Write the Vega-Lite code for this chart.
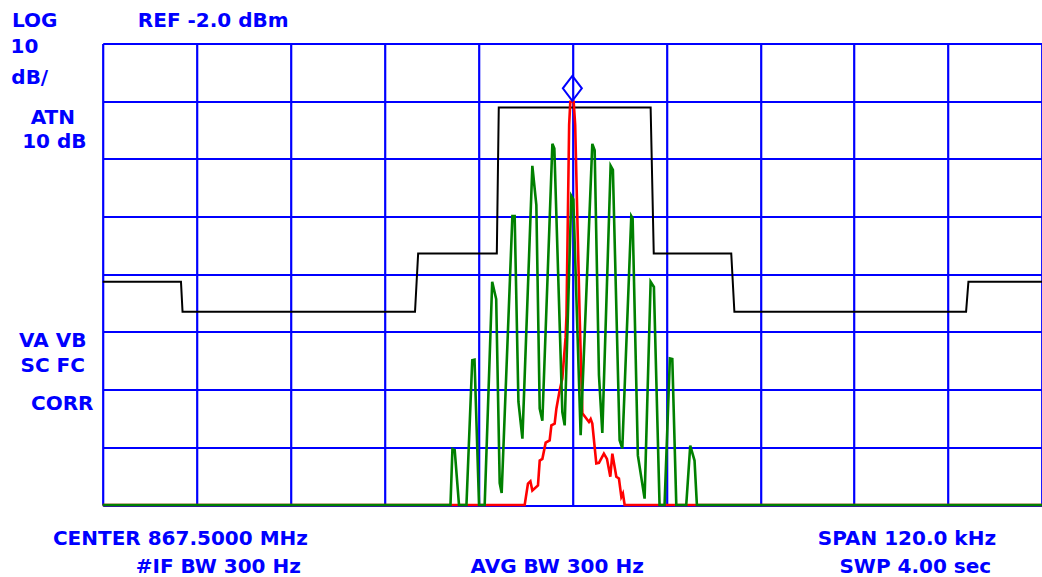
{
  "$schema": "https://vega.github.io/schema/vega-lite/v6.json",
  "autosize": {"type": "none"},
  "padding": {"left": 102.7, "top": 43.5, "right": 0, "bottom": 72},
  "width": 939.3,
  "height": 461.5,
  "background": "white",
  "config": {"view": {"stroke": null}, "text": {"font": "DejaVu Sans", "fontWeight": "bold", "fontSize": 20, "color": "#0000FF", "align": "center", "baseline": "alphabetic"}},
  "datasets": {
    "mask": [
      {"f": -60, "db": -43.3}, {"f": -50.0, "db": -43.3}, {"f": -49.8, "db": -48.5},
      {"f": -20.1, "db": -48.5}, {"f": -19.7, "db": -38.4}, {"f": -9.65, "db": -38.4},
      {"f": -9.4, "db": -13.1}, {"f": 10.0, "db": -13.1}, {"f": 10.4, "db": -38.4},
      {"f": 20.3, "db": -38.4}, {"f": 20.7, "db": -48.5}, {"f": 50.3, "db": -48.5},
      {"f": 50.6, "db": -43.3}, {"f": 60, "db": -43.3}
    ],
    "red": [
      {"f": -60, "db": -82}, {"f": -6.09, "db": -82}, {"f": -5.67, "db": -78.3},
      {"f": -5.36, "db": -77.9}, {"f": -5.11, "db": -79.5}, {"f": -4.39, "db": -78.6},
      {"f": -4.17, "db": -74.3}, {"f": -3.83, "db": -74.0}, {"f": -3.41, "db": -71.2},
      {"f": -2.90, "db": -70.8}, {"f": -2.68, "db": -68.2}, {"f": -2.26, "db": -67.9},
      {"f": -2.04, "db": -65.3}, {"f": -1.62, "db": -62.1}, {"f": -1.28, "db": -60.1},
      {"f": -0.86, "db": -52.9}, {"f": -0.75, "db": -49.1}, {"f": -0.41, "db": -16.1},
      {"f": -0.26, "db": -12.1}, {"f": 0.17, "db": -12.1}, {"f": 0.36, "db": -16.1},
      {"f": 0.93, "db": -49.1}, {"f": 1.28, "db": -66.1}, {"f": 1.79, "db": -67.0},
      {"f": 2.12, "db": -67.6}, {"f": 2.34, "db": -67.1}, {"f": 2.55, "db": -67.9},
      {"f": 3.06, "db": -74.8}, {"f": 3.40, "db": -74.7}, {"f": 4.03, "db": -73.1},
      {"f": 4.42, "db": -74.0}, {"f": 4.85, "db": -77.1}, {"f": 5.11, "db": -73.1},
      {"f": 5.62, "db": -77.1}, {"f": 5.95, "db": -77.4}, {"f": 6.26, "db": -80.6},
      {"f": 6.46, "db": -80.0}, {"f": 6.68, "db": -82}, {"f": 60, "db": -82}
    ],
    "green": [
      {"f": -60, "db": -82}, {"f": -15.57, "db": -82}, {"f": -15.32, "db": -72.3},
      {"f": -15.03, "db": -72.5}, {"f": -14.48, "db": -82}, {"f": -13.53, "db": -82},
      {"f": -12.79, "db": -56.9}, {"f": -12.5, "db": -56.8}, {"f": -11.92, "db": -82},
      {"f": -11.2, "db": -82}, {"f": -10.24, "db": -43.3}, {"f": -9.73, "db": -46.3},
      {"f": -9.28, "db": -78.2}, {"f": -9.03, "db": -79.9}, {"f": -7.66, "db": -31.9},
      {"f": -7.37, "db": -31.9}, {"f": -6.89, "db": -64.1}, {"f": -6.38, "db": -70.5},
      {"f": -5.11, "db": -23.2}, {"f": -4.6, "db": -30.0}, {"f": -4.17, "db": -65.3},
      {"f": -3.83, "db": -67.4}, {"f": -2.55, "db": -19.4}, {"f": -2.3, "db": -20.2},
      {"f": -1.28, "db": -65.9}, {"f": -0.98, "db": -68.2}, {"f": -0.13, "db": -28.4},
      {"f": 0.13, "db": -29.0}, {"f": 1.06, "db": -69.9}, {"f": 2.55, "db": -19.4},
      {"f": 2.85, "db": -20.5}, {"f": 3.4, "db": -59.5}, {"f": 3.83, "db": -69.5},
      {"f": 4.89, "db": -23.2}, {"f": 5.18, "db": -23.9}, {"f": 6.04, "db": -70.8},
      {"f": 6.38, "db": -72.2}, {"f": 7.53, "db": -31.9}, {"f": 7.7, "db": -32.3},
      {"f": 8.37, "db": -73.4}, {"f": 9.23, "db": -80.9}, {"f": 10.0, "db": -43.3},
      {"f": 10.42, "db": -44.2}, {"f": 11.14, "db": -82}, {"f": 11.78, "db": -82},
      {"f": 12.46, "db": -56.6}, {"f": 12.77, "db": -56.7}, {"f": 13.28, "db": -82},
      {"f": 14.55, "db": -82}, {"f": 15.06, "db": -71.7}, {"f": 15.61, "db": -74.3},
      {"f": 15.91, "db": -82}, {"f": 60, "db": -82}
    ],
    "marker": [{"f": 0, "db": -12.1}]
  },
  "layer": [
    {
      "data": {"name": "mask"},
      "mark": {"type": "line", "color": "black", "strokeWidth": 2},
      "encoding": {
        "x": {
          "field": "f", "type": "quantitative",
          "scale": {"domain": [-60, 60], "nice": false, "zero": false},
          "axis": {"grid": true, "gridColor": "#0000FF", "gridWidth": 2.2, "gridOpacity": 1,
                   "labels": false, "ticks": false, "domain": false, "title": null,
                   "values": [-60, -48, -36, -24, -12, 0, 12, 24, 36, 48, 60]}
        },
        "y": {
          "field": "db", "type": "quantitative",
          "scale": {"domain": [-82, -2], "nice": false, "zero": false},
          "axis": {"grid": true, "gridColor": "#0000FF", "gridWidth": 2.2, "gridOpacity": 1,
                   "labels": false, "ticks": false, "domain": false, "title": null,
                   "values": [-82, -72, -62, -52, -42, -32, -22, -12, -2]}
        },
        "order": {"field": "f", "type": "quantitative"}
      }
    },
    {
      "data": {"name": "red"},
      "mark": {"type": "line", "color": "#FF0000", "strokeWidth": 2.6},
      "encoding": {
        "x": {"field": "f", "type": "quantitative"},
        "y": {"field": "db", "type": "quantitative"},
        "order": {"field": "f", "type": "quantitative"}
      }
    },
    {
      "data": {"name": "green"},
      "mark": {"type": "line", "color": "#008000", "strokeWidth": 2.6},
      "encoding": {
        "x": {"field": "f", "type": "quantitative"},
        "y": {"field": "db", "type": "quantitative"},
        "order": {"field": "f", "type": "quantitative"}
      }
    },
    {
      "data": {"name": "marker"},
      "mark": {"type": "point", "shape": "M0,-1L0.76,0L0,1L-0.76,0Z", "size": 625,
               "filled": false, "stroke": "#0000FF", "strokeWidth": 2, "opacity": 1, "yOffset": -13.4},
      "encoding": {
        "x": {"field": "f", "type": "quantitative"},
        "y": {"field": "db", "type": "quantitative"}
      }
    },
    {"data": {"values": [{}]}, "mark": {"type": "text", "text": "LOG"},
     "encoding": {"x": {"datum": -68.68}, "y": {"datum": 0.81}}},
    {"data": {"values": [{}]}, "mark": {"type": "text", "text": "REF -2.0 dBm"},
     "encoding": {"x": {"datum": -45.88}, "y": {"datum": 0.81}}},
    {"data": {"values": [{}]}, "mark": {"type": "text", "text": "10"},
     "encoding": {"x": {"datum": -70.0}, "y": {"datum": -3.59}}},
    {"data": {"values": [{}]}, "mark": {"type": "text", "text": "dB/"},
     "encoding": {"x": {"datum": -69.32}, "y": {"datum": -9.02}}},
    {"data": {"values": [{}]}, "mark": {"type": "text", "text": "ATN"},
     "encoding": {"x": {"datum": -66.37}, "y": {"datum": -15.95}}},
    {"data": {"values": [{}]}, "mark": {"type": "text", "text": "10 dB"},
     "encoding": {"x": {"datum": -66.18}, "y": {"datum": -20.17}}},
    {"data": {"values": [{}]}, "mark": {"type": "text", "text": "VA VB"},
     "encoding": {"x": {"datum": -66.38}, "y": {"datum": -54.66}}},
    {"data": {"values": [{}]}, "mark": {"type": "text", "text": "SC FC"},
     "encoding": {"x": {"datum": -66.38}, "y": {"datum": -58.89}}},
    {"data": {"values": [{}]}, "mark": {"type": "text", "text": "CORR"},
     "encoding": {"x": {"datum": -65.17}, "y": {"datum": -65.53}}},
    {"data": {"values": [{}]}, "mark": {"type": "text", "text": "CENTER 867.5000 MHz"},
     "encoding": {"x": {"datum": -50.07}, "y": {"datum": -88.93}}},
    {"data": {"values": [{}]}, "mark": {"type": "text", "text": "#IF BW 300 Hz"},
     "encoding": {"x": {"datum": -45.23}, "y": {"datum": -93.79}}},
    {"data": {"values": [{}]}, "mark": {"type": "text", "text": "AVG BW 300 Hz"},
     "encoding": {"x": {"datum": -1.94}, "y": {"datum": -93.79}}},
    {"data": {"values": [{}]}, "mark": {"type": "text", "text": "SPAN 120.0 kHz"},
     "encoding": {"x": {"datum": 42.74}, "y": {"datum": -88.93}}},
    {"data": {"values": [{}]}, "mark": {"type": "text", "text": "SWP 4.00 sec"},
     "encoding": {"x": {"datum": 43.81}, "y": {"datum": -93.79}}}
  ]
}
